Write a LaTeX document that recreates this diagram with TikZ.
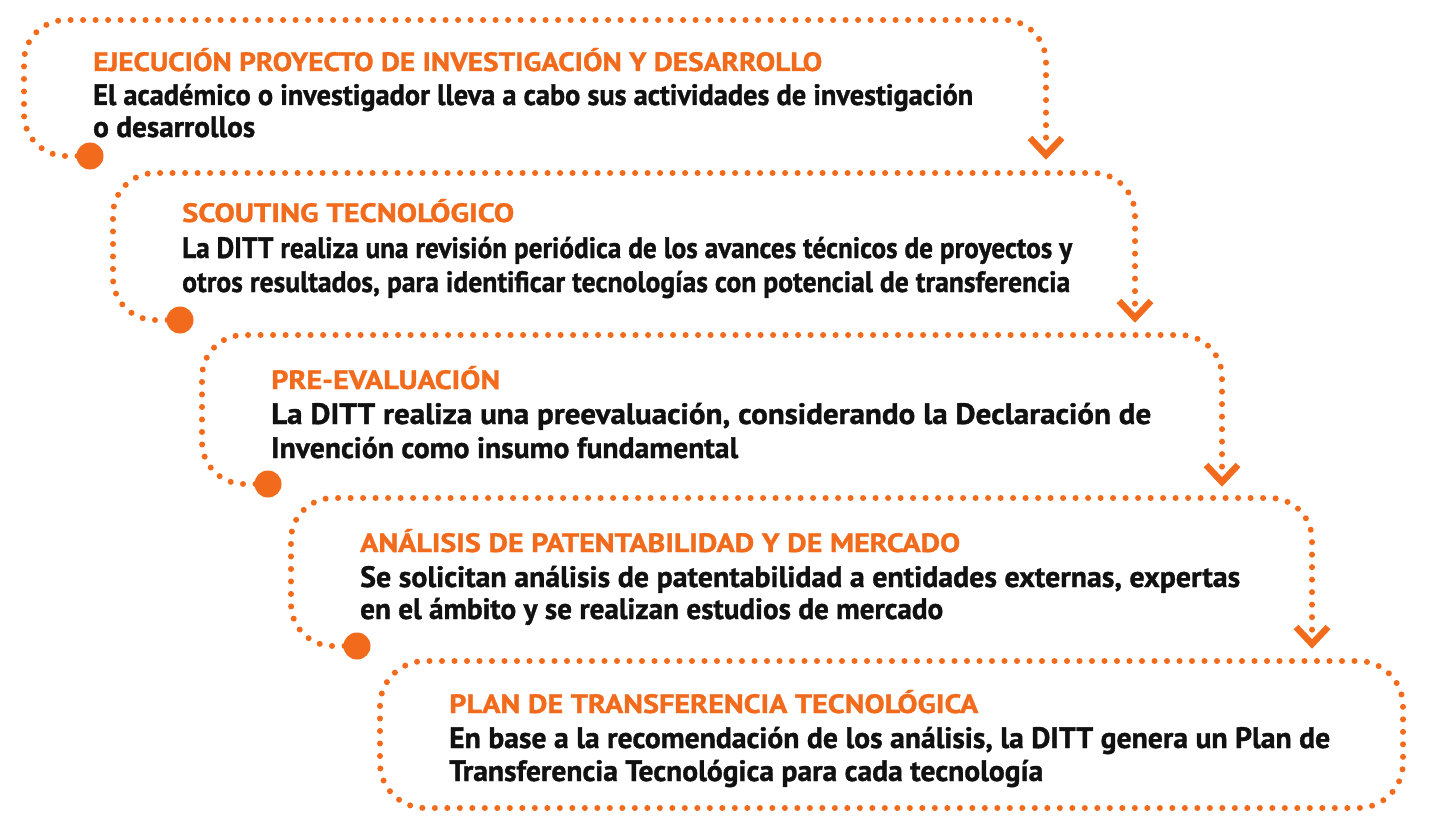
\documentclass[tikz,border=0pt]{standalone}
\usepackage{fontspec}
\setmainfont{PT Sans}[BoldFeatures={FakeBold=1.2}]
\usepackage{graphicx}
\definecolor{ditt}{HTML}{F26A1B}
\definecolor{ink}{HTML}{111111}
\newcommand{\fitw}[2]{\resizebox{#1pt}{\height}{#2}}
\tikzset{
  trail/.style={draw=ditt, line width=6pt, line cap=round, dash pattern=on 0pt off 12.5pt, rounded corners=42pt},
  chev/.style={draw=ditt, line width=6.5pt, line join=miter},
  bigdot/.style={fill=ditt, circle, minimum size=27pt, inner sep=0pt, draw=none},
  head/.style={anchor=base west, inner sep=0pt, text=ditt, font=\bfseries\fontsize{26.5}{26.5}\selectfont},
  body/.style={anchor=base west, inner sep=0pt, text=ink, font=\bfseries\fontsize{29.5}{29.5}\selectfont},
}
\begin{document}
\begin{tikzpicture}[x=1pt, y=-1pt]
\useasboundingbox (0,0) rectangle (1440,832);
\fill[white] (0,0) rectangle (1440,832);

% ---------- step 1
\coordinate (s1a) at (24,156);
\coordinate (s1b) at (24,20);
\coordinate (s1c) at (1046,20);
\coordinate (s1d) at (1046,146);
\coordinate (t1) at (1046,155);
\draw[trail] (90,156) -- (s1a) -- (s1b) -- (s1c) -- (s1d);
\draw[chev] (t1) ++(-16,-17) -- (t1) -- ++(16,-17);
\node[bigdot] (d1) at (90,156) {};
\node[head] (h1) at (93,71) {\fitw{729}{EJECUCIÓN PROYECTO DE INVESTIGACIÓN Y DESARROLLO}};
\node[body] (b1a) at (93,105) {\fitw{880}{El académico o investigador lleva a cabo sus actividades de investigación}};
\node[body] (b1b) at (93,137) {\fitw{162}{o desarrollos}};

% ---------- step 2
\coordinate (s2a) at (113,320);
\coordinate (s2b) at (113,173);
\coordinate (s2c) at (1135,173);
\coordinate (s2d) at (1135,309);
\coordinate (t2) at (1135,318);
\draw[trail] (180,320) -- (s2a) -- (s2b) -- (s2c) -- (s2d);
\draw[chev] (t2) ++(-16,-17) -- (t2) -- ++(16,-17);
\node[bigdot] (d2) at (180,320) {};
\node[head] (h2) at (182,222) {\fitw{332}{SCOUTING TECNOLÓGICO}};
\node[body] (b2a) at (182,258) {\fitw{890}{La DITT realiza una revisión periódica de los avances técnicos de proyectos y}};
\node[body] (b2b) at (182,292) {\fitw{888}{otros resultados, para identificar tecnologías con potencial de transferencia}};

% ---------- step 3
\coordinate (s3a) at (202,484);
\coordinate (s3b) at (202,335);
\coordinate (s3c) at (1222,335);
\coordinate (s3d) at (1222,473);
\coordinate (t3) at (1222,482);
\draw[trail] (268,484) -- (s3a) -- (s3b) -- (s3c) -- (s3d);
\draw[chev] (t3) ++(-16,-17) -- (t3) -- ++(16,-17);
\node[bigdot] (d3) at (268,484) {};
\node[head] (h3) at (271,389) {\fitw{229}{PRE-EVALUACIÓN}};
\node[body] (b3a) at (271,424) {\fitw{880}{La DITT realiza una preevaluación, considerando la Declaración de}};
\node[body] (b3b) at (271,458) {\fitw{467}{Invención como insumo fundamental}};

% ---------- step 4
\coordinate (s4a) at (291,646);
\coordinate (s4b) at (291,498);
\coordinate (s4c) at (1312,498);
\coordinate (s4d) at (1312,635);
\coordinate (t4) at (1312,644);
\draw[trail] (357,646) -- (s4a) -- (s4b) -- (s4c) -- (s4d);
\draw[chev] (t4) ++(-16,-17) -- (t4) -- ++(16,-17);
\node[bigdot] (d4) at (357,646) {};
\node[head] (h4) at (360,552) {\fitw{600}{ANÁLISIS DE PATENTABILIDAD Y DE MERCADO}};
\node[body] (b4a) at (360,587) {\fitw{880}{Se solicitan análisis de patentabilidad a entidades externas, expertas}};
\node[body] (b4b) at (360,619) {\fitw{583}{en el ámbito y se realizan estudios de mercado}};

% ---------- step 5
\draw[trail, rounded corners=45pt] (380,661) rectangle (1403,808);
\node[head] (h5) at (449,713) {\fitw{529}{PLAN DE TRANSFERENCIA TECNOLÓGICA}};
\node[body] (b5a) at (449,748) {\fitw{881}{En base a la recomendación de los análisis, la DITT genera un Plan de}};
\node[body] (b5b) at (449,781) {\fitw{594}{Transferencia Tecnológica para cada tecnología}};
\end{tikzpicture}
\end{document}
